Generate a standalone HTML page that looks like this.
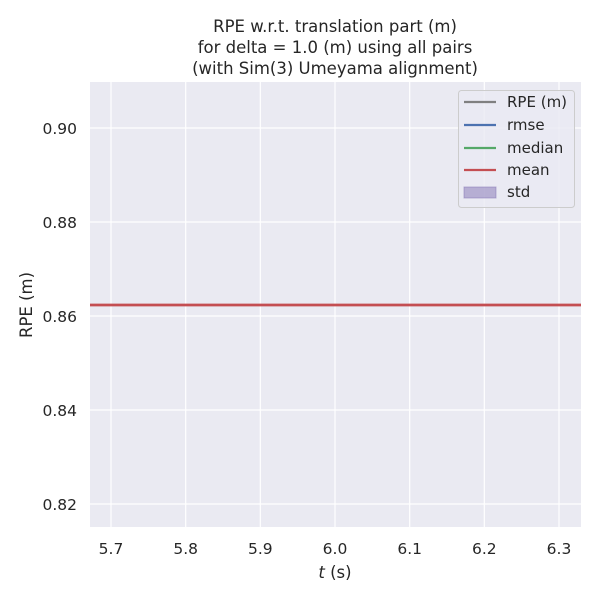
<!DOCTYPE html>
<html><head><style>body{margin:0;background:#fff}</style></head><body>
<svg width="600" height="600" xmlns="http://www.w3.org/2000/svg" font-family="DejaVu Sans, sans-serif" fill="#262626">
<rect x="90" y="82" width="491" height="445" fill="#eaeaf2"/>
<g stroke="#fff" stroke-width="1.2">
<line x1="111" y1="82" x2="111" y2="527"/><line x1="185.7" y1="82" x2="185.7" y2="527"/><line x1="260.3" y1="82" x2="260.3" y2="527"/><line x1="335" y1="82" x2="335" y2="527"/><line x1="409.7" y1="82" x2="409.7" y2="527"/><line x1="484.3" y1="82" x2="484.3" y2="527"/><line x1="559" y1="82" x2="559" y2="527"/>
<line x1="90" y1="128" x2="581" y2="128"/><line x1="90" y1="222" x2="581" y2="222"/><line x1="90" y1="316" x2="581" y2="316"/><line x1="90" y1="410" x2="581" y2="410"/><line x1="90" y1="504" x2="581" y2="504"/>
</g>
<line x1="90" y1="305" x2="581" y2="305" stroke="#c44e52" stroke-width="2.8"/>
<g font-size="15.5" text-anchor="middle">
<text x="111" y="554">5.7</text><text x="185.7" y="554">5.8</text><text x="260.3" y="554">5.9</text><text x="335" y="554">6.0</text><text x="409.7" y="554">6.1</text><text x="484.3" y="554">6.2</text><text x="559" y="554">6.3</text>
<text x="335" y="578" font-size="16.5"><tspan font-style="italic">t</tspan> (s)</text>
<text x="335" y="32" font-size="16.5">RPE w.r.t. translation part (m)</text>
<text x="335" y="53" font-size="16.5">for delta = 1.0 (m) using all pairs</text>
<text x="335" y="74" font-size="16.5">(with Sim(3) Umeyama alignment)</text>
</g>
<g font-size="15.5" text-anchor="end">
<text x="77" y="134">0.90</text><text x="77" y="228">0.88</text><text x="77" y="322">0.86</text><text x="77" y="416">0.84</text><text x="77" y="510">0.82</text>
</g>
<text transform="translate(32,305) rotate(-90)" font-size="16.5" text-anchor="middle">RPE (m)</text>
<rect x="458.5" y="90.5" width="116" height="117" rx="3" fill="#eaeaf2" fill-opacity="0.8" stroke="#ccc"/>
<g stroke-width="2.2">
<line x1="464" y1="102" x2="496" y2="102" stroke="#808080"/>
<line x1="464" y1="125" x2="496" y2="125" stroke="#4c72b0"/>
<line x1="464" y1="148" x2="496" y2="148" stroke="#55a868"/>
<line x1="464" y1="170" x2="496" y2="170" stroke="#c44e52"/>
</g>
<rect x="464" y="187" width="32" height="11" fill="#8172b3" fill-opacity="0.5" stroke="#8172b3" stroke-opacity="0.5"/>
<g font-size="15">
<text x="507" y="107">RPE (m)</text><text x="507" y="130">rmse</text><text x="507" y="153">median</text><text x="507" y="175">mean</text><text x="507" y="197">std</text>
</g>
</svg>
</body></html>
